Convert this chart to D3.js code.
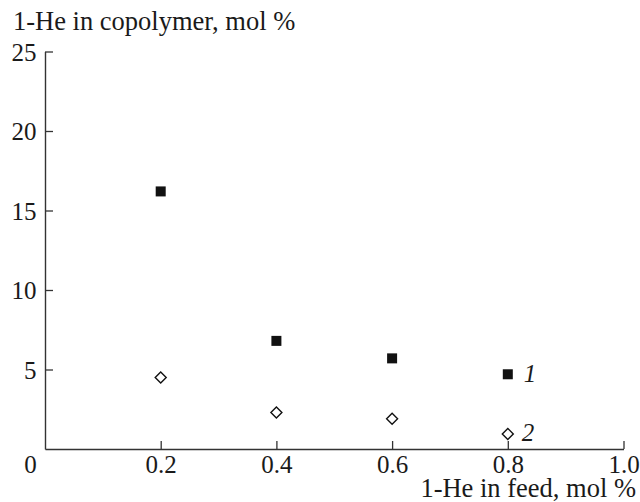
<!DOCTYPE html>
<html><head><meta charset="utf-8">
<script src="https://cdn.jsdelivr.net/npm/d3@7"></script>
<style>
html,body{margin:0;padding:0;background:#fff;}
svg text{font-family:"Liberation Serif","Times New Roman",serif;fill:#1a1a1a;}
</style></head>
<body><svg id="chart" width="640" height="502"></svg>
<script>
const feed = [0.2, 0.4, 0.6, 0.8];
const series1 = [16.2, 6.8, 5.7, 4.7];
const series2 = [4.5, 2.3, 1.9, 0.95];
const xTicks = [0, 0.2, 0.4, 0.6, 0.8, 1.0];
const yTicks = [5, 10, 15, 20, 25];
const seriesLabels = ["1", "2"];
const xTitle = "1-He in feed, mol %";
const yTitle = "1-He in copolymer, mol %";

const svg = d3.select("#chart");
const x = d3.scaleLinear().domain([0, 1]).range([45, 623.5]);
const y = d3.scaleLinear().domain([0, 25]).range([449, 51.5]);
const axisColor = "#333";
const fs = 25, tfs = 26.5;

const xAxis = svg.append("g").attr("transform", `translate(0,${y(0)})`)
  .call(d3.axisBottom(x).tickValues(xTicks).tickSizeInner(-8).tickSizeOuter(0).tickPadding(6)
    .tickFormat(d => d === 0 ? "0" : d3.format(".1f")(d)));
xAxis.select(".domain").attr("stroke", axisColor).attr("stroke-width", 1.4);
xAxis.selectAll(".tick line").attr("stroke", axisColor).attr("stroke-width", 1.3);
xAxis.selectAll(".tick").filter(d => d === 0).select("line").remove();
xAxis.selectAll(".tick text").attr("font-size", fs).attr("font-family", null).attr("fill", "#1a1a1a")
  .attr("dx", d => d === 0 ? -15 : 0);

const yAxis = svg.append("g").attr("transform", `translate(${x(0)},0)`)
  .call(d3.axisLeft(y).tickValues(yTicks).tickSizeInner(-8).tickSizeOuter(0).tickPadding(8.5));
yAxis.select(".domain").attr("stroke", axisColor).attr("stroke-width", 1.4);
yAxis.selectAll(".tick line").attr("stroke", axisColor).attr("stroke-width", 1.3);
yAxis.selectAll(".tick text").attr("font-size", fs).attr("font-family", null).attr("fill", "#1a1a1a").attr("dy", "0.34em");

// titles
svg.append("text").attr("x", 13).attr("y", 30).attr("font-size", tfs).text(yTitle);
svg.append("text").attr("x", 636).attr("y", 497).attr("text-anchor", "end").attr("font-size", tfs).text(xTitle);

// series 1: filled squares
const sq = 10;
svg.append("g").selectAll("rect").data(feed).join("rect")
  .attr("x", (d) => x(d) - sq / 2)
  .attr("y", (d, i) => y(series1[i]) - sq / 2)
  .attr("width", sq).attr("height", sq).attr("fill", "#111");

// series 2: open diamonds
const dm = 5.5;
svg.append("g").selectAll("path").data(feed).join("path")
  .attr("d", (d, i) => {
    const cx = x(d), cy = y(series2[i]);
    return `M${cx},${cy - dm}L${cx + dm},${cy}L${cx},${cy + dm}L${cx - dm},${cy}Z`;
  })
  .attr("fill", "#fff").attr("stroke", "#111").attr("stroke-width", 1.4);

// series labels
const lastIdx = feed.length - 1;
svg.append("text").attr("x", x(feed[lastIdx]) + 16).attr("y", y(series1[lastIdx]) + 8)
  .attr("font-size", fs).attr("font-style", "italic").text(seriesLabels[0]);
svg.append("text").attr("x", x(feed[lastIdx]) + 14).attr("y", y(series2[lastIdx]) + 7)
  .attr("font-size", fs).attr("font-style", "italic").text(seriesLabels[1]);
</script></body></html>
